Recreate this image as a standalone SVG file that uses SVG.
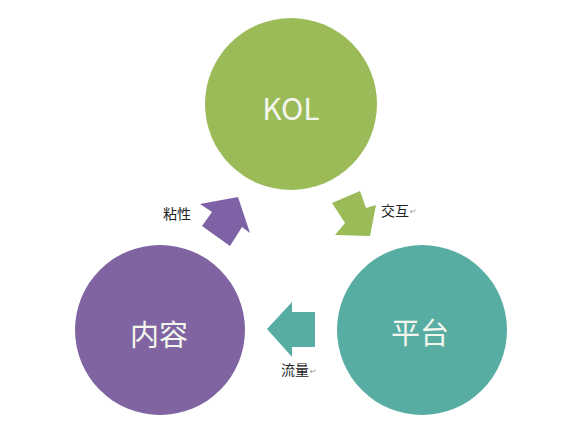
<svg xmlns="http://www.w3.org/2000/svg" width="580" height="443" viewBox="0 0 580 443">
<style>
.big{font-family:"Noto Sans CJK SC","Liberation Sans",sans-serif;fill:#f4f6ee;text-anchor:middle;dominant-baseline:central}
.lbl{font-family:"Noto Sans CJK SC",sans-serif;font-size:14px;fill:#222}
.ret{font-family:"DejaVu Sans",sans-serif;font-size:8px;fill:#999}
</style>
<rect width="580" height="443" fill="#ffffff"/>
<g id="kol">
<circle cx="291" cy="104" r="86" fill="#9bbb59"/>
<text class="big" x="291" y="107" font-size="30">KOL</text>
</g>
<g id="neirong">
<circle cx="160" cy="330" r="85" fill="#8064a2"/>
<text class="big" x="159" y="333" font-size="29">内容</text>
</g>
<g id="pingtai">
<circle cx="422" cy="330" r="85" fill="#58ada3"/>
<text class="big" x="420" y="331" font-size="29">平台</text>
</g>
<g id="connectors">
<polygon points="238,197 250,233 242,227 230,246 202,226 212,212 200,204" fill="#7d62a6"/>
<polygon points="332,203 360,191 366,208 376,205 370,236 335,235 345,223" fill="#9bbb59"/>
<polygon points="267,329 292,302 292,312 315,312 315,347 292,347 292,357" fill="#58ada3"/>
<text class="lbl" x="163" y="219">粘性</text>
<text class="lbl" x="381" y="216">交互</text><text class="ret" x="410" y="214">↵</text>
<text class="lbl" x="281" y="375">流量</text><text class="ret" x="310" y="374">↵</text>
</g>
</svg>
